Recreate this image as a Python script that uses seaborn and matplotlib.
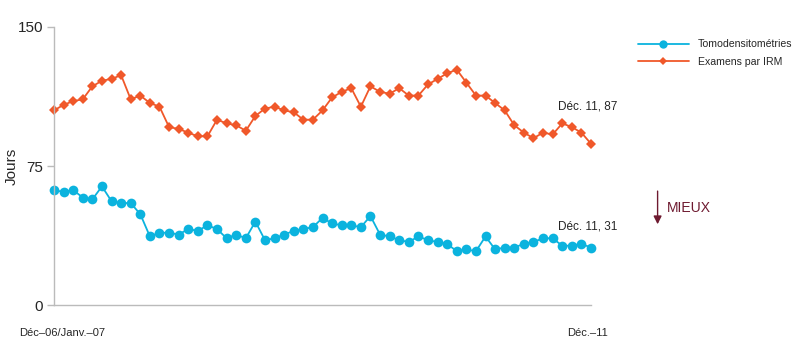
import pandas as pd
import seaborn as sns
import matplotlib.pyplot as plt
from matplotlib.lines import Line2D

# Monthly wait times (days), Dec-06/Jan-07 to Dec-11
ct_days = [62, 61, 62, 58, 57, 64, 56, 55, 55, 49, 37, 39, 39, 38, 41, 40, 43, 41, 36, 38,
           36, 45, 35, 36, 38, 40, 41, 42, 47, 44, 43, 43, 42, 48, 38, 37, 35, 34, 37, 35,
           34, 33, 29, 30, 29, 37, 30, 31, 31, 33, 34, 36, 36, 32, 32, 33, 31]
mri_days = [105, 108, 110, 111, 118, 121, 122, 124, 111, 113, 109, 107, 96, 95, 93, 91, 91, 100,
            98, 97, 94, 102, 106, 107, 105, 104, 100, 100, 105, 112, 115, 117, 107, 118, 115,
            114, 117, 113, 113, 119, 122, 125, 127, 120, 113, 113, 109, 105, 97, 93, 90, 93,
            92, 98, 96, 93, 87]
series_names = ["Tomodensitométries", "Examens par IRM"]
x_labels = ["Déc–06/Janv.–07", "Déc.–11"]
end_labels = ["Déc. 11, 31", "Déc. 11, 87"]

blue = "#0BB3DE"
orange = "#F0582A"
maroon = "#6E1A30"

df = pd.DataFrame({
    "idx": list(range(len(ct_days))) * 2,
    "jours": ct_days + mri_days,
    "serie": [series_names[0]] * len(ct_days) + [series_names[1]] * len(mri_days),
})

sns.set_style("white")
plt.rcParams["font.family"] = ["Liberation Sans", "DejaVu Sans"]

fig = plt.figure(figsize=(8, 3.52), dpi=100)
ax = fig.add_axes([0.0675, 0.1335, 0.67125, 0.7898])

sns.lineplot(data=df, x="idx", y="jours", hue="serie", style="serie",
             palette=[blue, orange], markers=["o", "D"], dashes=False,
             markersize=7, markeredgewidth=0, linewidth=1.3, ax=ax, legend=False)
for line in ax.lines:
    line.set_clip_on(False)
# diamonds a bit smaller than the circles
ax.lines[1].set_markersize(5.5)

n = len(ct_days)
ax.set_xlim(0, n - 1)
ax.set_ylim(0, 150)
ax.set_yticks([0, 75, 150])
ax.set_yticklabels(["0", "75", "150"], fontsize=11)
ax.set_xticks([])
ax.set_xlabel("")
ax.set_ylabel("Jours", fontsize=11)
ax.yaxis.set_label_coords(-0.066, 0.5)
ax.tick_params(axis="y", length=5, color="#bbbbbb", width=1, left=True, pad=3)

for s in ["top", "right"]:
    ax.spines[s].set_visible(False)
for s in ["left", "bottom"]:
    ax.spines[s].set_color("#bbbbbb")
    ax.spines[s].set_linewidth(1)

# x labels
ax.annotate(x_labels[0], xy=(0, 0), xycoords="data", xytext=(-25, -20),
            textcoords="offset points", fontsize=8, ha="left", va="center")
ax.annotate(x_labels[1], xy=(n - 1, 0), xycoords="data", xytext=(-17, -20),
            textcoords="offset points", fontsize=8, ha="left", va="center")

# end labels
ax.annotate(end_labels[0], xy=(n - 1, ct_days[-1]), xytext=(19, 15),
            textcoords="offset points", fontsize=8.5, ha="right", va="center",
            annotation_clip=False)
ax.annotate(end_labels[1], xy=(n - 1, mri_days[-1]), xytext=(19, 27),
            textcoords="offset points", fontsize=8.5, ha="right", va="center",
            annotation_clip=False)

# legend
handles = [Line2D([], [], color=blue, marker="o", markersize=6, markeredgewidth=0, linewidth=1.3),
           Line2D([], [], color=orange, marker="D", markersize=4, markeredgewidth=0, linewidth=1.3)]
fig.legend(handles, series_names, loc="upper left", bbox_to_anchor=(0.785, 0.915),
           frameon=False, fontsize=7.6, handlelength=4.9, labelspacing=0.7, handletextpad=0.8)

# MIEUX arrow
ax.annotate("", xy=(0.822, 0.355), xycoords="figure fraction",
            xytext=(0.822, 0.465), textcoords="figure fraction",
            arrowprops=dict(arrowstyle="-|>", color=maroon, lw=1, mutation_scale=12))
fig.text(0.834, 0.41, "MIEUX", color=maroon, fontsize=10, ha="left", va="center")

plt.savefig("out.png", dpi=100)
